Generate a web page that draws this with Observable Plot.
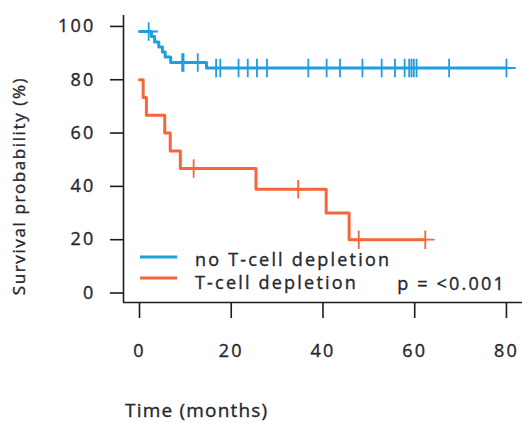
<!DOCTYPE html>
<html><head><meta charset="utf-8">
<script src="https://cdn.jsdelivr.net/npm/d3@7"></script>
<script src="https://cdn.jsdelivr.net/npm/@observablehq/plot@0.6"></script>
<style>
html,body{margin:0;padding:0;background:#fff;}
#chart{width:522px;height:423px;}
#chart svg text{letter-spacing:2.2px;stroke:#26262e;stroke-width:0.35px;}
</style></head><body><div id="chart"></div>
<script>
// ---- data ----
const seriesNames = ["no T-cell depletion", "T-cell depletion"];
const seriesColors = ["#1E9FDF", "#F5673A"];
const noTcdTimes = [0, 2.6, 3.3, 4.2, 5.0, 5.6, 6.8, 14.6, 80];
const noTcdSurv  = [98.1, 96.2, 94.2, 92.3, 90.4, 88.5, 86.5, 84.4, 84.4];
const noTcdCensorTimes = [2.0, 9.3, 9.6, 12.7, 16.7, 17.6, 21.6, 23.6, 25.6, 27.8, 36.8, 40.8, 43.7, 48.6, 52.8, 55.7, 57.8, 58.8, 59.3, 59.8, 60.4, 67.5, 80];
const tcdTimes = [0, 0.8, 1.5, 5.5, 6.7, 8.9, 25.4, 40.7, 45.7, 62.3];
const tcdSurv  = [80, 73.3, 66.7, 60, 53.3, 46.7, 38.9, 30, 20, 20];
const tcdCensorTimes = [11.8, 34.6, 47.8, 62.3];
const xTicks = [0, 20, 40, 60, 80];
const yTicks = [0, 20, 40, 60, 80, 100];
const xLabel = "Time (months)";
const yLabel = "Survival probability (%)";
const pLabel = "p = <0.001";

// ---- build tables ----
const curve = (times, surv, name) => times.map((t, i) => ({t, s: surv[i], name}));
const censor = (ct, times, surv, name) => ct.map(t => ({t, s: surv[Math.max(0, d3.bisectRight(times, t) - 1)], name}));
const lines = [...curve(noTcdTimes, noTcdSurv, seriesNames[0]), ...curve(tcdTimes, tcdSurv, seriesNames[1])];
const marks = [...censor(noTcdCensorTimes, noTcdTimes, noTcdSurv, seriesNames[0]), ...censor(tcdCensorTimes, tcdTimes, tcdSurv, seriesNames[1])];

const W = 522, H = 423;
const xDomain = [-3.49, 83.5], yDomain = [-3.56, 104.1];
const ink = "#1c1c1c", txt = "#26262e";

const plot = Plot.plot({
  width: W, height: H,
  marginLeft: 123, marginRight: 0, marginTop: 15, marginBottom: 121,
  style: {fontFamily: '"Open Sans", sans-serif', fontSize: "18px", color: txt, background: "transparent", overflow: "visible"},
  x: {domain: xDomain},
  y: {domain: yDomain},
  color: {domain: seriesNames, range: seriesColors},
  marks: [
    Plot.ruleX([xDomain[0]], {stroke: ink, strokeWidth: 1.6}),
    Plot.ruleY([yDomain[0]], {stroke: ink, strokeWidth: 1.6}),
    Plot.axisX(xTicks, {tickSize: 16, tickPadding: 26, label: null, stroke: ink, strokeWidth: 1.6, fill: txt, tickFormat: d => d}),
    Plot.axisY(yTicks, {tickSize: 13, tickPadding: 15, label: null, stroke: ink, strokeWidth: 1.6, fill: txt, tickFormat: d => d}),
    Plot.line(lines, {x: "t", y: "s", z: "name", stroke: "name", curve: "step-after", strokeWidth: 3}),
    Plot.dot(marks, {x: "t", y: "s", stroke: "name", symbol: "plus", r: 6, strokeWidth: 1.8})
  ]
});
document.getElementById("chart").appendChild(plot);

// ---- legend & labels ----
const svg = d3.select(plot);
const ff = '"Open Sans", sans-serif';
seriesNames.forEach((n, i) => {
  const y = [257, 278][i];
  svg.append("line").attr("x1", 140).attr("x2", 177).attr("y1", y).attr("y2", y)
    .attr("stroke", seriesColors[i]).attr("stroke-width", 3);
  svg.append("text").attr("x", 195).attr("y", [266, 289][i]).attr("text-anchor", "start").text(n)
    .attr("font-family", ff).attr("font-size", 18).attr("fill", txt);
});
svg.append("text").attr("x", 506).attr("y", 290).attr("text-anchor", "end").text(pLabel)
  .attr("font-family", ff).attr("font-size", 18).attr("fill", txt);
svg.append("text").attr("x", 125).attr("y", 417).attr("text-anchor", "start").text(xLabel)
  .attr("font-family", ff).attr("font-size", 19).attr("fill", txt).style("letter-spacing", "1.2px");
svg.append("text").attr("transform", "translate(25,186) rotate(-90)").attr("text-anchor", "middle").text(yLabel)
  .attr("font-family", ff).attr("font-size", 17).attr("fill", txt).style("letter-spacing", "1.6px");
</script></body></html>
